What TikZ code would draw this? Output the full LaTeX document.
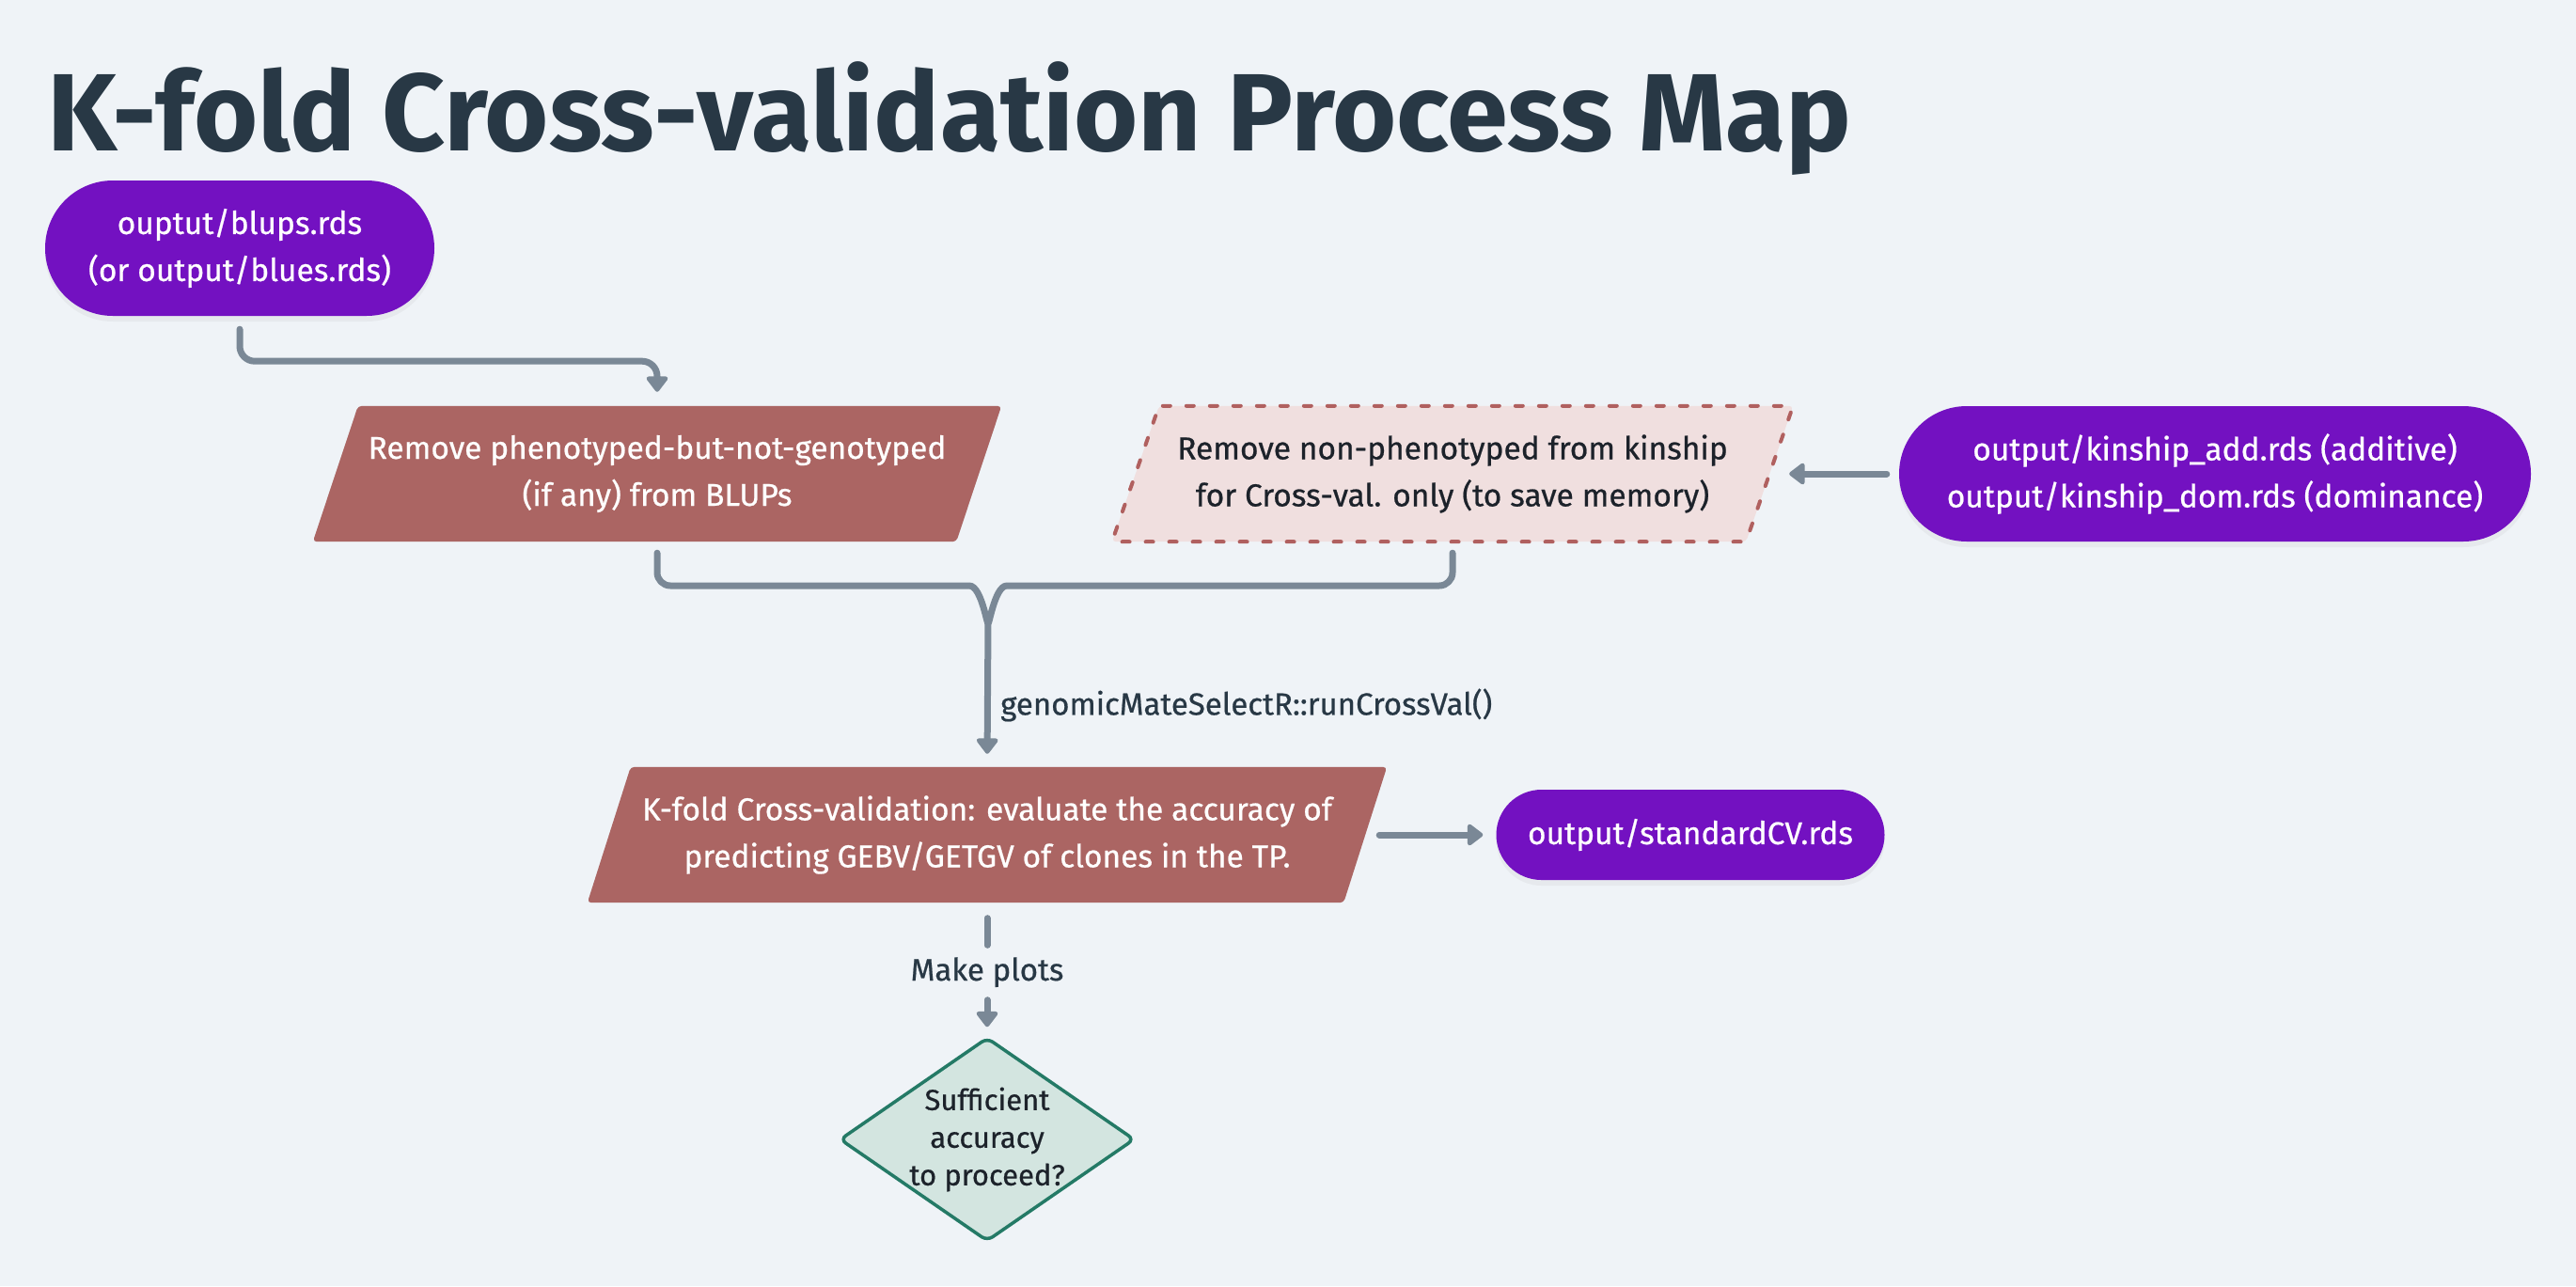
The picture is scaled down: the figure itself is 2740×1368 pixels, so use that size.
\documentclass[tikz,border=0pt]{standalone}
\usepackage{fontspec}
\setmainfont{Fira Sans}
\newfontfamily\medfont{Fira Sans}[FakeBold=0.6]
\usetikzlibrary{arrows.meta,shapes.geometric,backgrounds,shadows}

\definecolor{bg}{HTML}{EFF3F7}
\definecolor{titlec}{HTML}{283845}
\definecolor{purp}{HTML}{7311C1}
\definecolor{redb}{HTML}{AB6563}
\definecolor{pinkf}{HTML}{F0DFDF}
\definecolor{pinkd}{HTML}{B0605F}
\definecolor{connc}{HTML}{7A8896}
\definecolor{dfill}{HTML}{D3E5E0}
\definecolor{dline}{HTML}{247A66}
\definecolor{dtext}{HTML}{1C222A}

\begin{document}
\begin{tikzpicture}[x=1pt,y=-1pt,
  txt/.style={font=\medfont\fontsize{33.5}{50}\selectfont, align=center, inner sep=0pt},
  term/.style={txt, text=white, fill=purp, rounded corners=#1,
     drop shadow={opacity=0.08, shadow xshift=0pt, shadow yshift=-6pt}},
  procbox/.style={txt, minimum height=144pt},
  conn/.style={draw=connc, line width=7pt, line cap=round, line join=round},
  arr/.style={conn, -{Triangle[width=26pt,length=18pt,round]}},
  lbl/.style={font=\medfont\fontsize{33}{38}\selectfont, text=titlec, inner sep=0pt},
]
\begin{scope}[on background layer]
  \fill[bg] (0,0) rectangle (2740,1368);
\end{scope}
\useasboundingbox (0,0) rectangle (2740,1368);

% title
\node[anchor=base west, inner sep=0pt, text=titlec,
  font=\fontsize{117}{130}\selectfont\bfseries] (title) at (50,160)
  {K-fold Cross-validation Process Map};

% nodes
\node[term=72pt, minimum width=414pt, minimum height=144pt] (n1) at (255,264)
  {ouptut/blups.rds\\(or output/blues.rds)};
\node[procbox, minimum width=684pt, text=white] (n2) at (699,504)
  {Remove phenotyped-but-not-genotyped\\(if any) from BLUPs};
\node[procbox, minimum width=674pt, text=dtext] (n3) at (1545,504)
  {Remove non-phenotyped from kinship\\for Cross-val. only (to save memory)};
\node[term=72pt, minimum width=672pt, minimum height=144pt] (n4) at (2356,504)
  {output/kinship\_add.rds (additive)\\output/kinship\_dom.rds (dominance)};
\node[procbox, minimum width=804pt, text=white] (n5) at (1050,888)
  {K-fold Cross-validation: evaluate the accuracy of\\predicting GEBV/GETGV of clones in the TP.};
\node[term=48pt, minimum width=413pt, minimum height=96pt] (n6) at (1798,888)
  {output/standardCV.rds};
\node[txt, font=\medfont\fontsize{31}{40}\selectfont, text=dtext,
  minimum width=312pt, minimum height=215pt] (d) at (1050,1212)
  {Sufficient\\accuracy\\to proceed?};

% shapes drawn behind the texts
\begin{scope}[on background layer]
  \fill[black, opacity=0.07, rounded corners=4pt, yshift=-6pt]
    ([xshift=24pt]n2.north west) -- ([xshift=24pt]n2.north east) --
    ([xshift=-24pt]n2.south east) -- ([xshift=-24pt]n2.south west) -- cycle;
  \fill[redb, rounded corners=4pt]
    ([xshift=24pt]n2.north west) -- ([xshift=24pt]n2.north east) --
    ([xshift=-24pt]n2.south east) -- ([xshift=-24pt]n2.south west) -- cycle;
  \fill[black, opacity=0.07, rounded corners=4pt, yshift=-6pt]
    ([xshift=23pt]n5.north west) -- ([xshift=23pt]n5.north east) --
    ([xshift=-23pt]n5.south east) -- ([xshift=-23pt]n5.south west) -- cycle;
  \fill[redb, rounded corners=4pt]
    ([xshift=23pt]n5.north west) -- ([xshift=23pt]n5.north east) --
    ([xshift=-23pt]n5.south east) -- ([xshift=-23pt]n5.south west) -- cycle;
  \path[fill=pinkf, draw=pinkd, line width=4pt, line cap=round,
        dash pattern=on 8pt off 17pt, rounded corners=4pt]
    ([xshift=25pt]n3.north west) -- ([xshift=25pt]n3.north east) --
    ([xshift=-25pt]n3.south east) -- ([xshift=-25pt]n3.south west) -- cycle;
  \path[fill=dfill, draw=dline, line width=3.5pt, rounded corners=7pt]
    (d.north) -- (d.east) -- (d.south) -- (d.west) -- cycle;
\end{scope}

% connectors
\coordinate (mh) at (1051,623);
\coordinate (merge) at (1051,660);
\draw[arr, rounded corners=16pt, shorten <=14pt, shorten >=15pt]
  (n1.south) -- ++(0,48) -| (n2.north);
\draw[conn, rounded corners=14pt] ([yshift=-12pt]n2.south) |- ([xshift=-34pt]mh)
  .. controls ([xshift=-6pt]mh) and ([yshift=-14pt]merge) .. (merge);
\draw[conn, rounded corners=14pt] ([yshift=-12pt]n3.south) |- ([xshift=34pt]mh)
  .. controls ([xshift=6pt]mh) and ([yshift=-14pt]merge) .. (merge);
\draw[arr, shorten >=14pt] (merge) -- (n5.north);
\node[lbl, anchor=west] (lb1) at (1064,750) {genomicMateSelectR::runCrossVal()};
\draw[arr, shorten <=13pt, shorten >=21pt] (n4.west) -- (n3.east);
\draw[arr, shorten <=15pt, shorten >=14pt] (n5.east) -- (n6.west);
\node[lbl, text height=23pt, text depth=7pt] (mp) at (1050,1035) {Make plots};
\draw[conn, shorten <=16.5pt, shorten >=14.5pt] (n5.south) -- (mp.north);
\draw[arr, shorten <=13.5pt, shorten >=12pt] (mp.south) -- (d.north);
\end{tikzpicture}
\end{document}
